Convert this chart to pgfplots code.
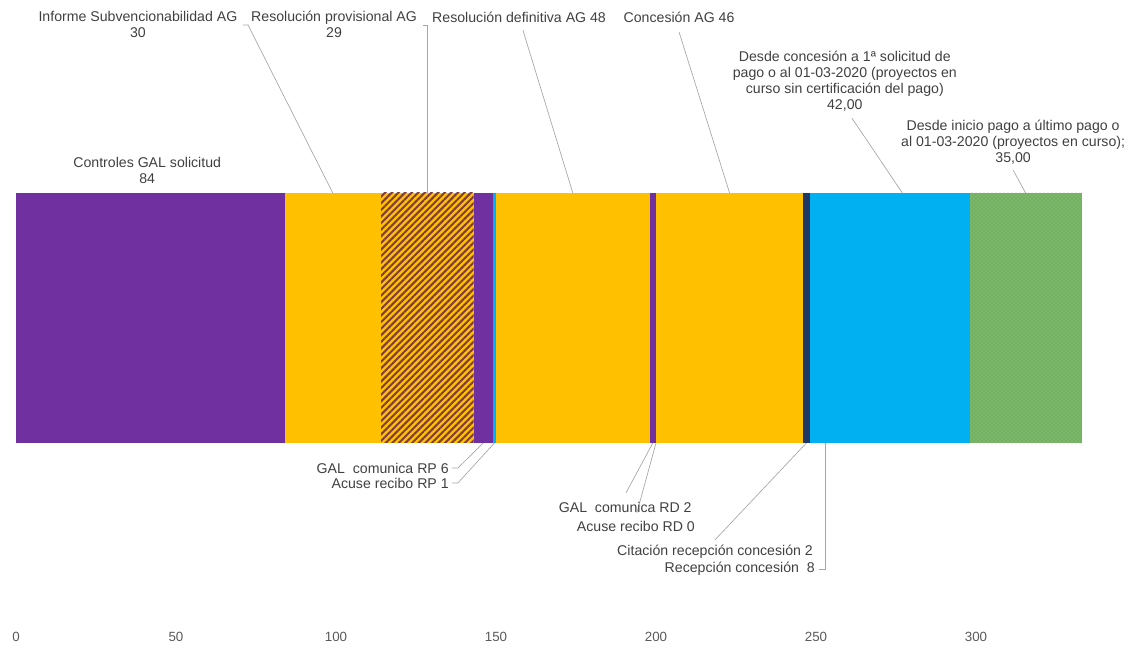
\documentclass[border=0pt]{standalone}
\usepackage{fontspec}
\setmainfont{Liberation Sans}
\usepackage{pgfplots}
\pgfplotsset{compat=1.18}
\usetikzlibrary{patterns,patterns.meta}
\definecolor{cpurple}{HTML}{7030A0}
\definecolor{cyellow}{HTML}{FFC000}
\definecolor{cblue}{HTML}{00B0F0}
\definecolor{cnavy}{HTML}{203864}
\definecolor{cgreen}{HTML}{72B062}
\definecolor{cgreenlt}{HTML}{9FCF8E}
\definecolor{stripe}{HTML}{7F3A3A}
\definecolor{labeltext}{HTML}{404040}
\definecolor{ticktext}{HTML}{595959}
\definecolor{leader}{HTML}{A6A6A6}
\begin{document}
\begin{tikzpicture}[x=0.75pt,y=0.75pt]
\useasboundingbox (0,0) rectangle (1131,657);
\begin{axis}[
  at={(12pt,24pt)}, anchor=south west,
  scale only axis, width=832.8pt, height=468.75pt,
  xmin=0, xmax=347, ymin=-625, ymax=0,
  xbar stacked, bar width=250,
  axis line style={draw=none}, tick style={draw=none},
  ytick=\empty,
  xtick={0,50,...,300},
  xticklabel style={font=\fontsize{10}{11}\selectfont, text=ticktext, yshift=-2pt},
  /pgf/number format/assume math mode=true,
  clip=false,
  every axis plot/.append style={draw=none},
]
% Controles GAL solicitud
\addplot[fill=cpurple] coordinates {(84,-318)};
% Informe Subvencionabilidad AG
\addplot[fill=cyellow] coordinates {(30,-318)};
% Resolucion provisional AG
\addplot[fill=cyellow, postaction={pattern={Lines[angle=45,distance=3.5pt,line width=1.5pt]}, pattern color=stripe}] coordinates {(29,-318)};
% GAL comunica RP
\addplot[fill=cpurple] coordinates {(6,-318)};
% Acuse recibo RP
\addplot[fill=cblue] coordinates {(1,-318)};
% Resolucion definitiva AG
\addplot[fill=cyellow] coordinates {(48,-318)};
% GAL comunica RD
\addplot[fill=cpurple] coordinates {(2,-318)};
% Acuse recibo RD
\addplot[fill=cblue] coordinates {(0,-318)};
% Concesion AG
\addplot[fill=cyellow] coordinates {(46,-318)};
% Citacion recepcion concesion
\addplot[fill=cnavy] coordinates {(2,-318)};
% Recepcion concesion
\addplot[fill=cblue] coordinates {(8,-318)};
% Desde concesion a 1a solicitud de pago
\addplot[fill=cblue] coordinates {(42,-318)};
% Desde inicio pago a ultimo pago
\addplot[fill=cgreen, postaction={pattern=crosshatch dots, pattern color=cgreenlt}] coordinates {(35,-318)};

\tikzset{lbl/.style={font=\fontsize{10.6}{12}\selectfont, text=labeltext, inner sep=0pt, align=center},
         ld/.style={draw=leader, line width=0.5pt}}
% top labels
\node[lbl] at (axis cs:38.1,-24.5) {Informe Subvencionabilidad AG\\30};
\draw[ld] (axis cs:70.9,-25) -- (axis cs:72.5,-25) -- (axis cs:99,-193);
\node[lbl] at (axis cs:99.4,-24.5) {Resolución provisional AG\\29};
\draw[ld] (axis cs:127.2,-25) -- (axis cs:128.5,-25) -- (axis cs:128.5,-193);
\node[lbl] at (axis cs:157.2,-17) {Resolución definitiva AG 48};
\draw[ld] (axis cs:158.4,-30) -- (axis cs:174,-193);
\node[lbl] at (axis cs:207.2,-17) {Concesión AG 46};
\draw[ld] (axis cs:207.2,-32) -- (axis cs:223,-193);
\node[lbl] at (axis cs:259,-81) {Desde concesión a 1ª solicitud de\\pago o al 01-03-2020 (proyectos en\\curso sin certificación del pago)\\42,00};
\draw[ld] (axis cs:261.2,-118) -- (axis cs:277,-193);
\node[lbl] at (axis cs:311.6,-142) {Desde inicio pago a último pago o\\al 01-03-2020 (proyectos en curso);\\35,00};
\draw[ld] (axis cs:311.6,-170) -- (axis cs:315.5,-193);
\node[lbl] at (axis cs:41,-170) {Controles GAL solicitud\\84};
% bottom labels
\node[lbl, anchor=east] at (axis cs:135.3,-468) {GAL\ \ comunica RP 6};
\draw[ld] (axis cs:136.2,-468) -- (axis cs:138.1,-468) -- (axis cs:146,-443);
\node[lbl, anchor=east] at (axis cs:135.3,-483) {Acuse recibo RP 1};
\draw[ld] (axis cs:136.2,-483) -- (axis cs:138.1,-483) -- (axis cs:149.5,-443);
\node[lbl, anchor=east] at (axis cs:211.2,-507) {GAL\ \ comunica RD 2};
\draw[ld] (axis cs:190.6,-493) -- (axis cs:199,-443);
\node[lbl, anchor=east] at (axis cs:212.2,-526) {Acuse recibo RD 0};
\draw[ld] (axis cs:194,-513) -- (axis cs:200,-443);
\node[lbl, anchor=east] at (axis cs:249.1,-552) {Citación recepción concesión 2};
\draw[ld] (axis cs:218.4,-540) -- (axis cs:247,-443);
\node[lbl, anchor=east] at (axis cs:249.7,-569) {Recepción concesión\ \ 8};
\draw[ld] (axis cs:250.9,-569) -- (axis cs:253,-569) -- (axis cs:253,-443);
\end{axis}
\end{tikzpicture}
\end{document}
